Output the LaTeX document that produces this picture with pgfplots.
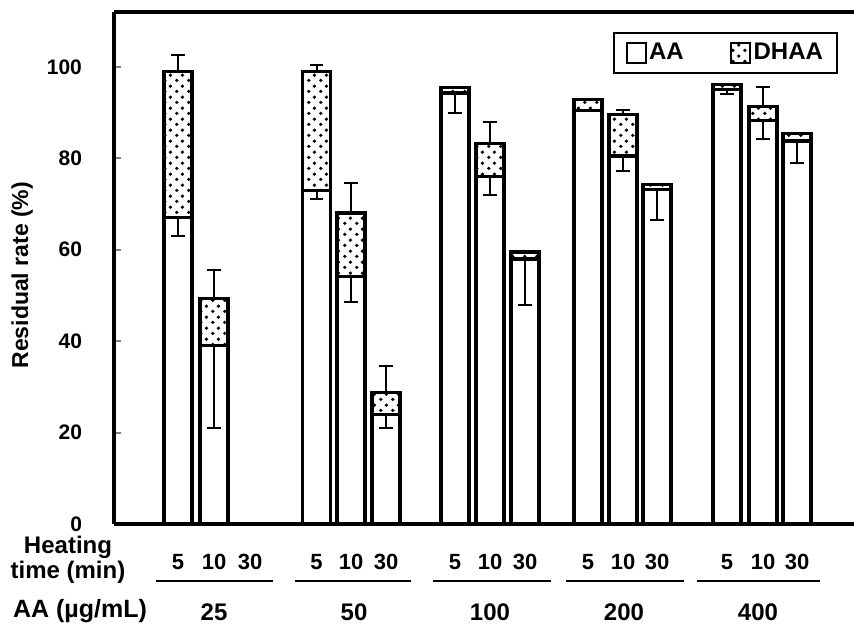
\documentclass[border=0pt]{standalone}
\usepackage{fontspec}
\setmainfont{Liberation Sans}
\usepackage{pgfplots}
\pgfplotsset{compat=1.18}
\usetikzlibrary{patterns}
\pgfdeclarepatternformonly{mydots}{\pgfpoint{0pt}{0pt}}{\pgfpoint{5.8pt}{5.6pt}}{\pgfpoint{5.8pt}{5.6pt}}{%
  \pgfpathcircle{\pgfpoint{1.45pt}{1.4pt}}{0.95pt}%
  \pgfpathcircle{\pgfpoint{4.35pt}{4.2pt}}{0.95pt}%
  \pgfusepath{fill}}
\begin{document}
\begin{tikzpicture}
\begin{axis}[
  scale only axis, width=370pt, height=256pt,
  xmin=114, xmax=854, ymin=0, ymax=112,
  clip=false,
  axis x line=box, axis y line=left,
  axis line style={-, line width=1.8pt},
  ytick={0,20,40,60,80,100},
  tick align=inside, major tick length=3.5pt,
  ytick style={line width=1pt},
  xtick={178,214,250,316.5,351,386,455,490,525,588,623,657,727,763,797},
  xticklabels={5,10,30,5,10,30,5,10,30,5,10,30,5,10,30},
  xtick style={draw=none},
  xticklabel style={yshift=-11.5pt, font=\fontsize{11}{12}\selectfont\bfseries},
  yticklabel style={xshift=-12.5pt},
  tick label style={font=\fontsize{10.5}{12}\selectfont\bfseries},
  /pgf/number format/assume math mode=true,
  ylabel={\fontsize{11.5}{13}\selectfont\bfseries Residual rate (\%)},
  ylabel style={at={(axis description cs:-0.124,0.486)}, anchor=center},
  bar width=28,
  reverse legend,
  legend columns=2,
  legend style={at={(axis description cs:0.674,0.961)}, anchor=north west,
    draw=black, line width=1pt, inner xsep=6pt, inner ysep=4pt,
    font=\fontsize{12}{14}\selectfont\bfseries,
    nodes={inner sep=1.2pt},
    /tikz/every even column/.append style={column sep=22pt}},
  legend cell align=left,
  legend image code/.code={\draw[#1, line width=1pt] (0pt,-5pt) rectangle (9.5pt,5pt);},
]
% total (AA + DHAA), dotted, with upper error bars
\addplot[ybar, bar shift=0pt, draw=black, line width=1.7pt,
  pattern=mydots,
  error bars/.cd, y dir=plus, y explicit,
  error bar style={line width=1pt, black, solid},
  error mark options={line width=1pt, black, mark size=3.3pt, rotate=90}]
  coordinates {
  (178,99) +- (0,3.5)
  (214,49.3) +- (0,6.2)
  (316.5,99) +- (0,1.3)
  (351,68) +- (0,6.5)
  (386,28.8) +- (0,5.7)
  (455,95.5) +- (0,0)
  (490,83.2) +- (0,4.8)
  (525,59.5) +- (0,0)
  (588,92.8) +- (0,0)
  (623,89.6) +- (0,0.9)
  (657,74.3) +- (0,0)
  (727,96.2) +- (0,0)
  (763,91.3) +- (0,4.2)
  (797,85.4) +- (0,0)
  };
\addlegendentry{DHAA}
% AA, white, with lower error bars
\addplot[ybar, bar shift=0pt, draw=black, fill=white, line width=1.7pt,
  error bars/.cd, y dir=minus, y explicit,
  error bar style={line width=1pt, black, solid},
  error mark options={line width=1pt, black, mark size=3.3pt, rotate=90}]
  coordinates {
  (178,67) +- (0,4)
  (214,39) +- (0,18)
  (316.5,73) +- (0,2)
  (351,54.2) +- (0,5.7)
  (386,24) +- (0,3)
  (455,94.3) +- (0,4.5)
  (490,76) +- (0,4)
  (525,58) +- (0,10.2)
  (588,90.5) +- (0,0)
  (623,80.5) +- (0,3.2)
  (657,73.2) +- (0,6.7)
  (727,95) +- (0,1)
  (763,88.3) +- (0,4.1)
  (797,83.8) +- (0,4.8)
  };
\addlegendentry{AA}
% labels below the axis
\node[font=\fontsize{12}{10.5}\selectfont\bfseries, align=center] at (axis cs:68,-7.8) {Heating\\time (min)};
\node[font=\fontsize{12.5}{14}\selectfont\bfseries] at (axis cs:80,-19.0) {AA (µg/mL)};
\draw[line width=0.8pt] (axis cs:156,-12.4) -- (axis cs:273,-12.4);
\draw[line width=0.8pt] (axis cs:295,-12.4) -- (axis cs:411,-12.4);
\draw[line width=0.8pt] (axis cs:433,-12.4) -- (axis cs:551,-12.4);
\draw[line width=0.8pt] (axis cs:566,-12.4) -- (axis cs:684,-12.4);
\draw[line width=0.8pt] (axis cs:697,-12.4) -- (axis cs:820,-12.4);
\node[font=\fontsize{12}{14}\selectfont\bfseries] at (axis cs:214,-19.4) {25};
\node[font=\fontsize{12}{14}\selectfont\bfseries] at (axis cs:354,-19.4) {50};
\node[font=\fontsize{12}{14}\selectfont\bfseries] at (axis cs:490,-19.4) {100};
\node[font=\fontsize{12}{14}\selectfont\bfseries] at (axis cs:624,-19.4) {200};
\node[font=\fontsize{12}{14}\selectfont\bfseries] at (axis cs:758,-19.4) {400};
\end{axis}
\pgfresetboundingbox
\path[use as bounding box] (-57pt,-49.5pt) rectangle (370pt,262pt);
\end{tikzpicture}
\end{document}
